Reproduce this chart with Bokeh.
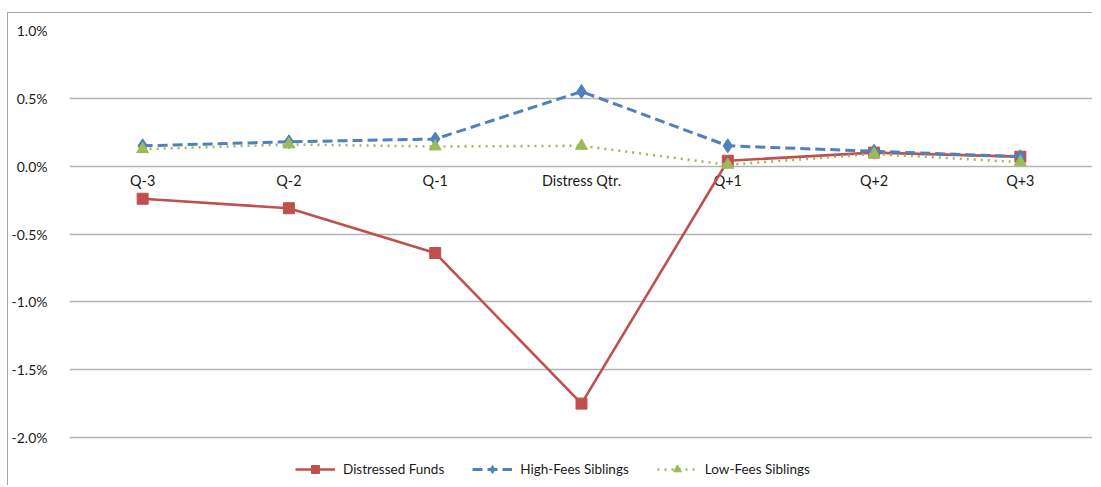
from bokeh.plotting import figure
from bokeh.models import FactorRange, Range1d, FixedTicker, PrintfTickFormatter, Legend, LegendItem
from bokeh.core.properties import value
from bokeh.embed import file_html
from bokeh.resources import INLINE

categories = ["Q-3", "Q-2", "Q-1", "Distress Qtr.", "Q+1", "Q+2", "Q+3"]
distressed = [-0.24, -0.31, -0.64, -1.75, 0.04, 0.10, 0.07]
high_fees = [0.15, 0.18, 0.20, 0.55, 0.15, 0.11, 0.07]
low_fees = [0.125, 0.16, 0.145, 0.15, 0.01, 0.09, 0.03]
y_ticks = [-2.0, -1.5, -1.0, -0.5, 0.0, 0.5, 1.0]
series_names = ["Distressed Funds", "High-Fees Siblings", "Low-Fees Siblings"]

FONT = "Lato"
RED = "#C0504D"
BLUE = "#4F81BD"
GREEN = "#9BBB59"

p = figure(
    width=1085, height=473,
    x_range=FactorRange(*categories, range_padding=0),
    y_range=Range1d(-2.361, 1.0),
    output_backend="svg", toolbar_location=None,
    min_border_left=61, min_border_right=0, min_border_top=17, min_border_bottom=0,
    styles={"margin-top": "12px", "margin-left": "7px",
            "border-left": "1px solid #a6a6a6", "border-top": "1px solid #a6a6a6"},
)
p.outline_line_color = None
p.background_fill_color = "white"
p.border_fill_color = "white"

p.xaxis.visible = False
p.xgrid.visible = False
p.yaxis.ticker = FixedTicker(ticks=y_ticks)
p.yaxis.formatter = PrintfTickFormatter(format="%.1f%%")
p.yaxis.axis_line_color = None
p.yaxis.major_tick_line_color = None
p.yaxis.minor_tick_line_color = None
p.yaxis.major_label_standoff = 16
p.yaxis.major_label_text_font = FONT
p.yaxis.major_label_text_font_size = "14px"
p.yaxis.major_label_text_color = "#1a1a1a"
p.ygrid.ticker = FixedTicker(ticks=y_ticks)
p.ygrid.grid_line_color = "#b4b4b4"
p.ygrid.grid_line_width = 1.3

# category labels at the zero line
p.text(x=categories, y=[0.0] * len(categories), text=categories,
       text_align="center", text_baseline="top", y_offset=6,
       text_font=value(FONT), text_font_size="14.4px", text_color="#1a1a1a")

r1 = p.line(categories, distressed, line_color=RED, line_width=2.6)
m1 = p.scatter(categories, distressed, marker="square", size=11,
               fill_color=RED, line_color=RED)
r2 = p.line(categories, high_fees, line_color=BLUE, line_width=3, line_dash="10 5")
m2 = p.scatter(categories, high_fees, marker="diamond", size=14,
               fill_color=BLUE, line_color=BLUE)
r3 = p.line(categories, low_fees, line_color=GREEN, line_width=2.6, line_dash="2 5")
m3 = p.scatter(categories, low_fees, marker="triangle", size=12,
               fill_color=GREEN, line_color=GREEN)

legend = Legend(
    items=[LegendItem(label=series_names[0], renderers=[r1, m1]),
           LegendItem(label=series_names[1], renderers=[r2, m2]),
           LegendItem(label=series_names[2], renderers=[r3, m3])],
    orientation="horizontal", location=(226, 7),
    glyph_width=40, glyph_height=20, label_standoff=8, spacing=28,
    padding=2, margin=0,
    label_text_font=FONT, label_text_font_size="13.5px", label_text_color="#1a1a1a",
    border_line_color=None, background_fill_alpha=0,
)
p.add_layout(legend, "center")

open("out.html", "w").write(file_html(p, INLINE))
